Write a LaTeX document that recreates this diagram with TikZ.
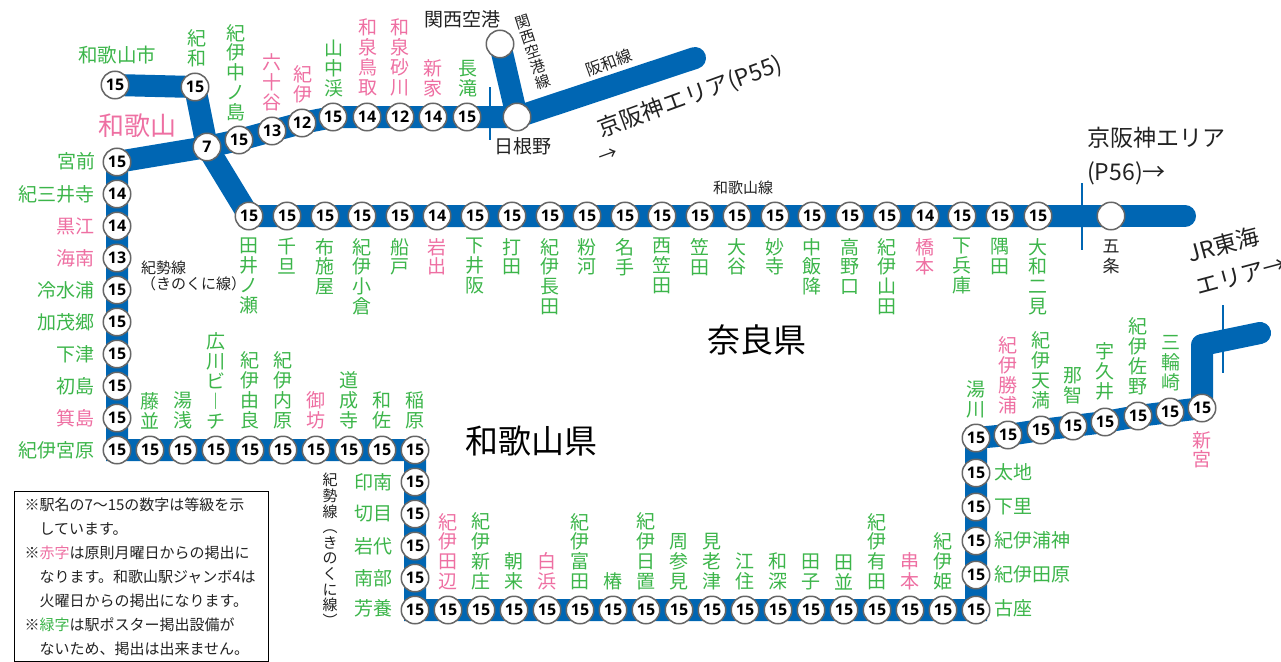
\documentclass[tikz,border=0pt]{standalone}
\usepackage{fontspec}
\setmainfont{Noto Sans CJK JP}
\newfontfamily\numfont{Open Sans}
\usetikzlibrary{backgrounds}
\definecolor{lineblue}{HTML}{0066B3}
\definecolor{stngreen}{HTML}{3CB54A}
\definecolor{stnpink}{HTML}{EE6FA2}
\definecolor{inkgrey}{HTML}{222222}
\tikzset{
  stn/.style={draw=black!60,line width=1.5pt,fill=white,circle,minimum size=27.5pt,inner sep=0pt,font=\numfont\bfseries\fontsize{16}{16}\selectfont,text=black},
  tname/.style={align=center,inner sep=0pt,font=\fontsize{19}{19.8}\selectfont},
  grn/.style={tname,text=stngreen},
  pnk/.style={tname,text=stnpink},
  blk/.style={tname,text=inkgrey},
  small/.style={inner sep=0pt,text=inkgrey,font=\fontsize{15}{15.6}\selectfont},
  area/.style={inner sep=0pt,text=inkgrey,font=\fontsize{23}{34}\selectfont},
  pref/.style={inner sep=0pt,text=black,font=\fontsize{33}{33}\selectfont},
  track/.style={draw=lineblue,line width=22pt},
  tick/.style={draw=lineblue,line width=2.5pt},
}
\begin{document}
\begin{tikzpicture}[x=1pt,y=-1pt]
  \useasboundingbox (0,0) rectangle (1281,661);
  % Hanwa line and branches
  \node[stn] (shi) at (115,85) {15};
  \node[grn,font=\fontsize{19.5}{20}\selectfont] (lshi) at (117,55) {和歌山市};
  \node[stn] (kiwa) at (195,87) {15};
  \node[grn,anchor=south] (lkiwa) at (197,67) {紀\\和};
  \node[stn] (waka) at (207,147) {7};
  \node[pnk,font=\fontsize{26}{26}\selectfont] (lwaka) at (137,126) {和歌山};
  \node[stn] (h1) at (239,140) {15};
  \node[grn,anchor=south] (lh1) at (236,121) {紀\\伊\\中\\ノ\\島};
  \node[stn] (h2) at (272,131) {13};
  \node[pnk,anchor=south] (lh2) at (272,111) {六\\十\\谷};
  \node[stn] (h3) at (302,123) {12};
  \node[pnk,anchor=south] (lh3) at (303,103) {紀\\伊};
  \node[stn] (h4) at (333,117) {15};
  \node[grn,anchor=south] (lh4) at (334,97) {山\\中\\渓};
  \node[stn] (h5) at (367,117) {14};
  \node[pnk,anchor=south] (lh5) at (368,96) {和\\泉\\鳥\\取};
  \node[stn] (h6) at (400,117) {12};
  \node[pnk,anchor=south] (lh6) at (400,96) {和\\泉\\砂\\川};
  \node[stn] (h7) at (433,117) {14};
  \node[pnk,anchor=south] (lh7) at (433,97) {新\\家};
  \node[stn] (h8) at (467,117) {15};
  \node[grn,anchor=south] (lh8) at (468,97) {長\\滝};
  \node[stn] (hine) at (517,117) {};
  \node[blk] (lhine) at (523,146) {日根野};
  \node[stn] (kix) at (500,44) {};
  \node[blk] (lkix) at (462,19) {関西空港};
  \coordinate (hanwaend) at (695,58);
  \node[small,rotate=18,align=center] (lkixline) at (533,52) {関\\西\\空\\港\\線};
  \node[small,rotate=20,font=\fontsize{16}{16}\selectfont] (lhanwa) at (609,63) {阪和線};
  \node[area,rotate=20] (larea55) at (690,97) {京阪神エリア(P55)};
  \node[small,rotate=20,font=\fontsize{19}{19}\selectfont] (larr55) at (608,156) {→};
  \coordinate (tick1a) at (490,87);
  \coordinate (tick1b) at (490,140);

  % Wakayama line
  \node[stn] (m1) at (249,216) {15};
  \node[grn,anchor=north] (lm1) at (249,238) {田\\井\\ノ\\瀬};
  \node[stn] (m2) at (287,216) {15};
  \node[grn,anchor=north] (lm2) at (287,238) {千\\旦};
  \node[stn] (m3) at (325,216) {15};
  \node[grn,anchor=north] (lm3) at (325,238) {布\\施\\屋};
  \node[stn] (m4) at (362,216) {15};
  \node[grn,anchor=north] (lm4) at (362,238) {紀\\伊\\小\\倉};
  \node[stn] (m5) at (400,216) {15};
  \node[grn,anchor=north] (lm5) at (400,238) {船\\戸};
  \node[stn] (m6) at (437,216) {14};
  \node[pnk,anchor=north] (lm6) at (437,238) {岩\\出};
  \node[stn] (m7) at (475,216) {15};
  \node[grn,anchor=north] (lm7) at (475,238) {下\\井\\阪};
  \node[stn] (m8) at (512,216) {15};
  \node[grn,anchor=north] (lm8) at (512,238) {打\\田};
  \node[stn] (m9) at (550,216) {15};
  \node[grn,anchor=north] (lm9) at (550,238) {紀\\伊\\長\\田};
  \node[stn] (m10) at (587,216) {15};
  \node[grn,anchor=north] (lm10) at (587,238) {粉\\河};
  \node[stn] (m11) at (625,216) {15};
  \node[grn,anchor=north] (lm11) at (625,238) {名\\手};
  \node[stn] (m12) at (662,216) {15};
  \node[grn,anchor=north] (lm12) at (662,238) {西\\笠\\田};
  \node[stn] (m13) at (700,216) {15};
  \node[grn,anchor=north] (lm13) at (700,238) {笠\\田};
  \node[stn] (m14) at (737,216) {15};
  \node[grn,anchor=north] (lm14) at (737,238) {大\\谷};
  \node[stn] (m15) at (775,216) {15};
  \node[grn,anchor=north] (lm15) at (775,238) {妙\\寺};
  \node[stn] (m16) at (812,216) {15};
  \node[grn,anchor=north] (lm16) at (812,238) {中\\飯\\降};
  \node[stn] (m17) at (850,216) {15};
  \node[grn,anchor=north] (lm17) at (850,238) {高\\野\\口};
  \node[stn] (m18) at (887,216) {15};
  \node[grn,anchor=north] (lm18) at (887,238) {紀\\伊\\山\\田};
  \node[stn] (m19) at (925,216) {14};
  \node[pnk,anchor=north] (lm19) at (925,238) {橋\\本};
  \node[stn] (m20) at (962,216) {15};
  \node[grn,anchor=north] (lm20) at (962,238) {下\\兵\\庫};
  \node[stn] (m21) at (1000,216) {15};
  \node[grn,anchor=north] (lm21) at (1000,238) {隅\\田};
  \node[stn] (m22) at (1038,216) {15};
  \node[grn,anchor=north] (lm22) at (1038,238) {大\\和\\二\\見};
  \node[stn] (gojo) at (1111,216) {};
  \node[blk,anchor=north,font=\fontsize{17}{19.5}\selectfont] (lgojo) at (1111,240) {五\\条};
  \coordinate (wakaend) at (1185,216);
  \node[small] (lwakaline) at (743,188) {和歌山線};
  \node[area,anchor=west,align=left] (larea56) at (1087,156) {京阪神エリア\\(P56)→};
  \coordinate (tick2a) at (1082,183);
  \coordinate (tick2b) at (1082,250);

  % Kisei line, west side
  \node[stn] (k1) at (117,162) {15};
  \node[grn,anchor=east] (lk1) at (96,161) {宮前};
  \node[stn] (k2) at (117,194) {14};
  \node[grn,anchor=east] (lk2) at (95,194) {紀三井寺};
  \node[stn] (k3) at (117,226) {14};
  \node[pnk,anchor=east] (lk3) at (95,226) {黒江};
  \node[stn] (k4) at (117,258) {13};
  \node[pnk,anchor=east] (lk4) at (95,258) {海南};
  \node[stn] (k5) at (117,290) {15};
  \node[grn,anchor=east] (lk5) at (95,290) {冷水浦};
  \node[stn] (k6) at (117,322) {15};
  \node[grn,anchor=east] (lk6) at (95,322) {加茂郷};
  \node[stn] (k7) at (117,354) {15};
  \node[grn,anchor=east] (lk7) at (95,354) {下津};
  \node[stn] (k8) at (117,386) {15};
  \node[grn,anchor=east] (lk8) at (95,386) {初島};
  \node[stn] (k9) at (117,418) {15};
  \node[pnk,anchor=east] (lk9) at (95,418) {箕島};
  \node[stn] (k10) at (117,450) {15};
  \node[grn,anchor=east] (lk10) at (95,450) {紀伊宮原};
  \node[small,anchor=west,align=left] (lkisei) at (141,276) {紀勢線\\（きのくに線）};

  % Kisei line, upper row
  \node[stn] (r1) at (150,450) {15};
  \node[grn,anchor=south] (lr1) at (150,429) {藤\\並};
  \node[stn] (r2) at (183,450) {15};
  \node[grn,anchor=south] (lr2) at (183,429) {湯\\浅};
  \node[stn] (r3) at (216,450) {15};
  \node[grn,anchor=south] (lr3) at (216,429) {広\\川\\ビ\\︱\\チ};
  \node[stn] (r4) at (250,450) {15};
  \node[grn,anchor=south] (lr4) at (250,429) {紀\\伊\\由\\良};
  \node[stn] (r5) at (283,450) {15};
  \node[grn,anchor=south] (lr5) at (283,429) {紀\\伊\\内\\原};
  \node[stn] (r6) at (316,450) {15};
  \node[pnk,anchor=south] (lr6) at (316,429) {御\\坊};
  \node[stn] (r7) at (349,450) {15};
  \node[grn,anchor=south] (lr7) at (349,429) {道\\成\\寺};
  \node[stn] (r8) at (382,450) {15};
  \node[grn,anchor=south] (lr8) at (382,429) {和\\佐};
  \node[stn] (r9) at (415,450) {15};
  \node[grn,anchor=south] (lr9) at (415,429) {稲\\原};

  % Kisei line, short column
  \node[stn] (c1) at (415,482) {15};
  \node[grn,anchor=east] (lc1) at (393,482) {印南};
  \node[stn] (c2) at (415,514) {15};
  \node[grn,anchor=east] (lc2) at (393,514) {切目};
  \node[stn] (c3) at (415,546) {15};
  \node[grn,anchor=east] (lc3) at (393,546) {岩代};
  \node[stn] (c4) at (415,578) {15};
  \node[grn,anchor=east] (lc4) at (393,578) {南部};
  \node[stn] (c5) at (415,610) {15};
  \node[grn,anchor=east] (lc5) at (393,608) {芳養};
  \node[small,anchor=north,align=center] (lkisei2) at (330,473) {紀\\勢\\線\\︵\\き\\の\\く\\に\\線\\︶};

  % Kisei line, lower row
  \node[stn] (b1) at (448,610) {15};
  \node[pnk,anchor=south] (lb1) at (448,590) {紀\\伊\\田\\辺};
  \node[stn] (b2) at (481,610) {15};
  \node[grn,anchor=south] (lb2) at (481,590) {紀\\伊\\新\\庄};
  \node[stn] (b3) at (514,610) {15};
  \node[grn,anchor=south] (lb3) at (514,590) {朝\\来};
  \node[stn] (b4) at (547,610) {15};
  \node[pnk,anchor=south] (lb4) at (547,590) {白\\浜};
  \node[stn] (b5) at (580,610) {15};
  \node[grn,anchor=south] (lb5) at (580,590) {紀\\伊\\富\\田};
  \node[stn] (b6) at (613,610) {15};
  \node[grn,anchor=south] (lb6) at (613,590) {椿};
  \node[stn] (b7) at (646,610) {15};
  \node[grn,anchor=south] (lb7) at (646,590) {紀\\伊\\日\\置};
  \node[stn] (b8) at (679,610) {15};
  \node[grn,anchor=south] (lb8) at (679,590) {周\\参\\見};
  \node[stn] (b9) at (712,610) {15};
  \node[grn,anchor=south] (lb9) at (712,590) {見\\老\\津};
  \node[stn] (b10) at (745,610) {15};
  \node[grn,anchor=south] (lb10) at (745,590) {江\\住};
  \node[stn] (b11) at (778,610) {15};
  \node[grn,anchor=south] (lb11) at (778,590) {和\\深};
  \node[stn] (b12) at (811,610) {15};
  \node[grn,anchor=south] (lb12) at (811,590) {田\\子};
  \node[stn] (b13) at (844,610) {15};
  \node[grn,anchor=south] (lb13) at (844,590) {田\\並};
  \node[stn] (b14) at (877,610) {15};
  \node[grn,anchor=south] (lb14) at (877,590) {紀\\伊\\有\\田};
  \node[stn] (b15) at (910,610) {15};
  \node[pnk,anchor=south] (lb15) at (910,590) {串\\本};
  \node[stn] (b16) at (943,610) {15};
  \node[grn,anchor=south] (lb16) at (943,590) {紀\\伊\\姫};

  % Kisei line, east side
  \node[stn] (e1) at (976,610) {15};
  \node[grn,anchor=west] (le1) at (994,608) {古座};
  \node[stn] (e2) at (976,575) {15};
  \node[grn,anchor=west] (le2) at (994,574) {紀伊田原};
  \node[stn] (e3) at (976,541) {15};
  \node[grn,anchor=west] (le3) at (994,540) {紀伊浦神};
  \node[stn] (e4) at (976,507) {15};
  \node[grn,anchor=west] (le4) at (994,507) {下里};
  \node[stn] (e5) at (976,473) {15};
  \node[grn,anchor=west] (le5) at (994,472) {太地};
  \node[stn] (e6) at (976,438) {15};
  \node[grn,anchor=south] (le6) at (976,418) {湯\\川};
  \node[stn] (e7) at (1008,435) {15};
  \node[pnk,anchor=south] (le7) at (1008,414) {紀\\伊\\勝\\浦};
  \node[stn] (e8) at (1041,430) {15};
  \node[grn,anchor=south] (le8) at (1041,409) {紀\\伊\\天\\満};
  \node[stn] (e9) at (1073,426) {15};
  \node[grn,anchor=south] (le9) at (1073,404) {那\\智};
  \node[stn] (e10) at (1105,422) {15};
  \node[grn,anchor=south] (le10) at (1105,400) {宇\\久\\井};
  \node[stn] (e11) at (1138,416) {15};
  \node[grn,anchor=south] (le11) at (1138,395) {紀\\伊\\佐\\野};
  \node[stn] (e12) at (1170,412) {15};
  \node[grn,anchor=south] (le12) at (1171,391) {三\\輪\\崎};
  \node[stn] (e13) at (1202,408) {15};
  \node[pnk,anchor=north] (le13) at (1202,431) {新\\宮};
  \coordinate (jrbend) at (1202,345);
  \coordinate (jrend) at (1260,333);
  \node[area,rotate=15,align=left,anchor=west] (larea) at (1192,270) {JR東海\\エリア→};
  \coordinate (tick3a) at (1223,305);
  \coordinate (tick3b) at (1223,373);

  \node[pref] (lnara) at (757,340) {奈良県};
  \node[pref] (lwkym) at (531,441) {和歌山県};

  \node[draw=black,line width=1pt,anchor=north west,fill=white,align=left,text width=234pt,inner xsep=10pt,inner ysep=6pt,font=\fontsize{15}{24}\selectfont,text=inkgrey] (notes) at (14,491) {※駅名の7〜15の数字は等級を示\\
  \hspace*{15pt}しています。\\
  ※\textcolor{stnpink}{赤字}は原則月曜日からの掲出に\\
  \hspace*{15pt}なります。和歌山駅ジャンボ4は\\
  \hspace*{15pt}火曜日からの掲出になります。\\
  ※\textcolor{stngreen}{緑字}は駅ポスター掲出設備が\\
  \hspace*{15pt}ないため、掲出は出来ません。};

  \begin{scope}[on background layer]
    \draw[track] (shi.center) -- (kiwa.center) -- (waka.center) -- (m1.center) -- (m22.center) -- (gojo.center);
    \draw[track,line cap=round] (gojo.center) -- (wakaend);
    \draw[track] (k1.center) -- (waka.center) -- (h1.center) -- (h2.center) -- (h3.center) -- (h4.center) -- (h8.center) -- (hine.center);
    \draw[track,line cap=round] (hine.center) -- (hanwaend);
    \draw[track] (kix.center) -- (hine.center);
    \draw[track] (k1.center) -- (k10.center) -- (r9.center) -- (c5.center) -- (e1.center) -- (e6.center) -- (e7.center) -- (e8.center) -- (e9.center) -- (e10.center) -- (e11.center) -- (e12.center) -- (e13.center);
    \draw[track,line join=round,line cap=round] (e13.center) -- (jrbend) -- (jrend);
    \draw[tick] (tick1a) -- (tick1b);
    \draw[tick] (tick2a) -- (tick2b);
    \draw[tick] (tick3a) -- (tick3b);
  \end{scope}
\end{tikzpicture}
\end{document}
